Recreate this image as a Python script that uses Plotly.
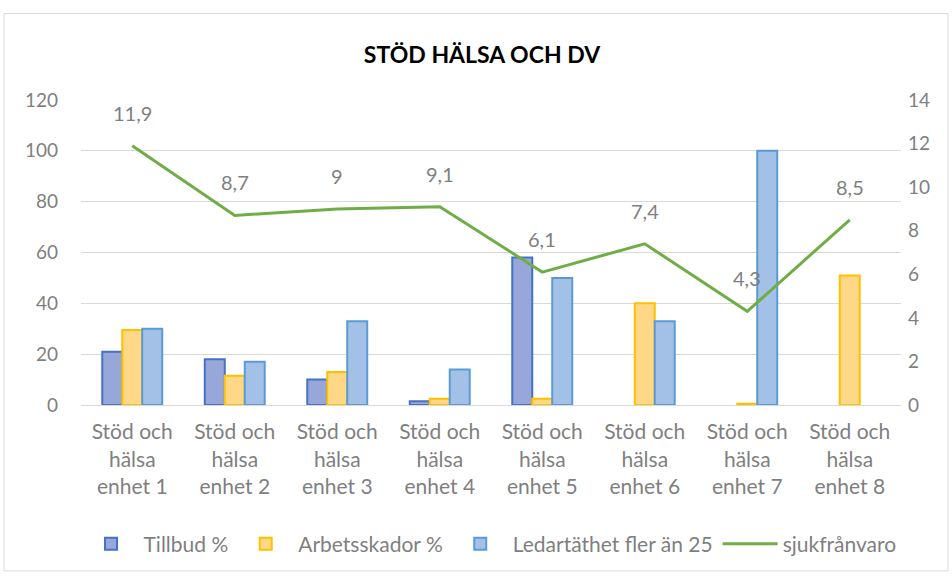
import plotly.graph_objects as go

# Data
units = ["Stöd och<br>hälsa<br>enhet %d" % i for i in range(1, 9)]
tillbud = [21, 18, 10, 1.5, 58, None, None, None]
arbetsskador = [29.5, 11.5, 13, 2.5, 2.5, 40, 0.5, 51]
ledartathet = [30, 17, 33, 14, 50, 33, 100, None]
sjukfranvaro = [11.9, 8.7, 9, 9.1, 6.1, 7.4, 4.3, 8.5]

grey = "#7f7f7f"
font_family = "Lato, Open Sans, sans-serif"

fig = go.Figure()

fig.add_trace(go.Bar(
    x=units, y=tillbud, name="Tillbud %",
    marker=dict(color="#97a7da", line=dict(color="#4472c4", width=2)),
))
fig.add_trace(go.Bar(
    x=units, y=arbetsskador, name="Arbetsskador %",
    marker=dict(color="#ffd887", line=dict(color="#ffc000", width=2)),
))
fig.add_trace(go.Bar(
    x=units, y=ledartathet, name="Ledartäthet fler än 25",
    marker=dict(color="#a3c1e6", line=dict(color="#5b9bd5", width=2)),
))
fig.add_trace(go.Scatter(
    x=units, y=sjukfranvaro, name="sjukfrånvaro", yaxis="y2",
    mode="lines", line=dict(color="#70ad47", width=3),
))

# data labels above the line points (Excel style, a bit higher than plotly's default)
for u, v in zip(units, sjukfranvaro):
    fig.add_annotation(x=u, y=v, yref="y2", text=str(v).replace(".", ","),
                       showarrow=False, yshift=33,
                       font=dict(size=20, color=grey, family=font_family))

# plot area in pixels, used for the outer border
W, H = 952, 577
L, R, T, B = 81, 51, 100, 170
pw, ph = W - L - R, H - T - B

fig.update_layout(
    width=W, height=H,
    margin=dict(l=L, r=R, t=T, b=B),
    paper_bgcolor="white", plot_bgcolor="white",
    font=dict(family=font_family, size=19, color=grey),
    title=dict(text="<b>STÖD HÄLSA OCH DV</b>", x=(482) / W, xanchor="center",
               y=1 - 55 / H, yanchor="middle",
               font=dict(size=23, color="black", family=font_family)),
    barmode="group", bargap=0.415, bargroupgap=0,
    xaxis=dict(showgrid=False, showline=True, linecolor="#d9d9d9", linewidth=1,
               tickfont=dict(size=21, color=grey), ticks="",
               ticklabelstandoff=8),
    yaxis=dict(range=[0, 120], dtick=20, showgrid=True, gridcolor="#d9d9d9",
               gridwidth=1, zeroline=False, tickfont=dict(size=19, color=grey),
               ticklabelstandoff=22),
    yaxis2=dict(range=[0, 14], dtick=2, overlaying="y", side="right",
                showgrid=False, zeroline=False, tickfont=dict(size=19, color=grey),
                ticklabelstandoff=6),
    legend=dict(orientation="h", x=(490 - L) / pw, xanchor="center",
                y=(T + ph - 547) / ph, yanchor="middle", itemwidth=55,
                font=dict(size=21, color=grey), traceorder="normal"),
    showlegend=True,
    shapes=[dict(type="rect", xref="paper", yref="paper",
                 x0=(4 - L) / pw, x1=(948 - L) / pw,
                 y0=(T + ph - 574) / ph, y1=(T + ph - 13) / ph,
                 line=dict(color="#d9d9d9", width=1))],
)

fig.write_html("out.html", config={"displayModeBar": False},
               post_script="document.body.style.margin='0';")
